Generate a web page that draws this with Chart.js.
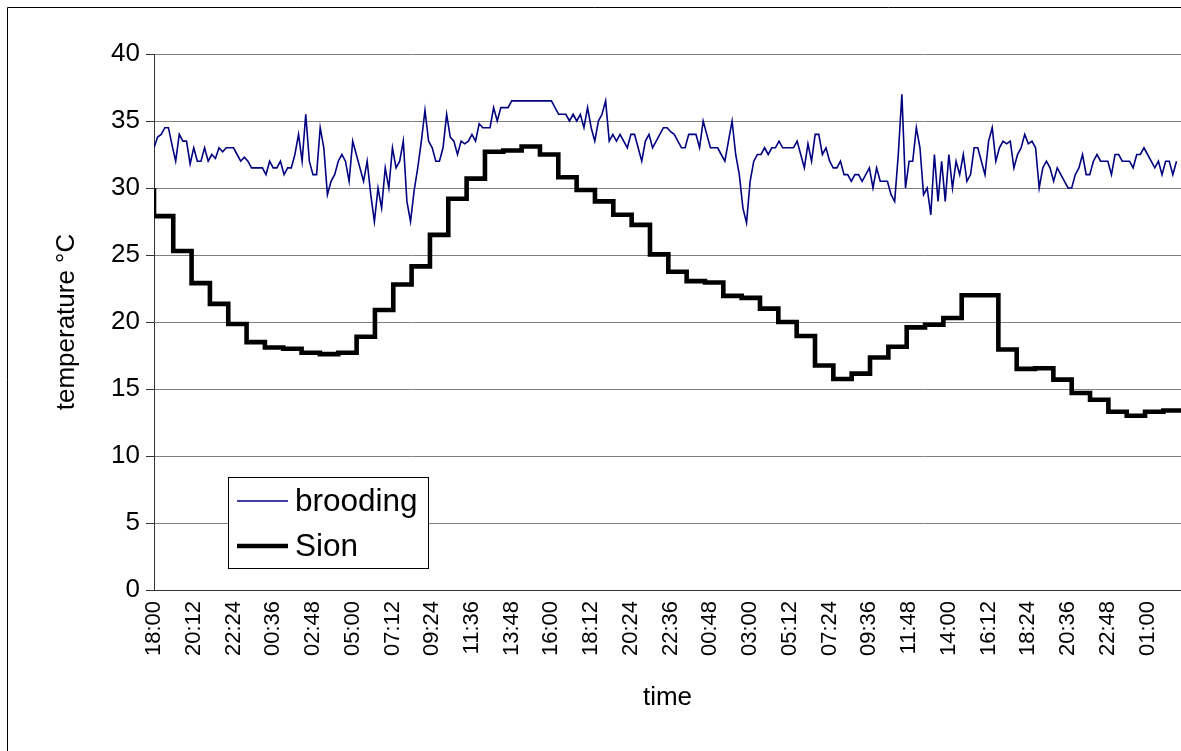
<!DOCTYPE html>
<html>
<head>
<meta charset="utf-8">
<title>brooding vs Sion</title>
<script src="https://cdn.jsdelivr.net/npm/chart.js@4.4.0/dist/chart.umd.min.js"></script>
<style>
    html, body { margin: 0; padding: 0; background: #fff; overflow: hidden; }
    #wrap { width: 1181px; height: 751px; overflow: hidden; }
    canvas { display: block; }
</style>
</head>
<body>
<div id="wrap"><canvas id="tempChart" width="1181" height="751"></canvas></div>
<script>
// --- data --- //
const tickLabels = ['18:00', '20:12', '22:24', '00:36', '02:48', '05:00', '07:12', '09:24', '11:36',
    '13:48', '16:00', '18:12', '20:24', '22:36', '00:48', '03:00', '05:12', '07:24', '09:36',
    '11:48', '14:00', '16:12', '18:24', '20:36', '22:48', '01:00'];
const tickStepMin = 132;     // one label every 2h12
const sampleStepMin = 12;    // brooding logger interval
const axisEndMin = 3411;

// nest temperature, one value every 12 min from 18:00
const brooding = [
    33, 33.8, 34, 34.5, 34.5, 33.2, 32, 34, 33.5, 33.5,
    31.8, 33, 32, 32, 33, 32, 32.5, 32.2, 33, 32.7,
    33, 33, 33, 32.5, 32, 32.3, 32, 31.5, 31.5, 31.5,
    31.5, 31, 32, 31.5, 31.5, 32, 31, 31.5, 31.5, 32.5,
    34, 32, 35.5, 32, 31, 31, 34.5, 33, 29.5, 30.5,
    31, 32, 32.5, 32, 30.5, 33.5, 32.5, 31.5, 30.5, 32,
    29.5, 27.5, 30, 28.5, 31.5, 30, 33, 31.5, 32, 33.5,
    29, 27.5, 29.8, 31.5, 33.5, 35.8, 33.5, 33, 32, 32,
    33, 35.5, 33.8, 33.5, 32.5, 33.5, 33.3, 33.5, 34, 33.5,
    34.8, 34.5, 34.5, 34.5, 36, 35, 36, 36, 36, 36.5,
    36.5, 36.5, 36.5, 36.5, 36.5, 36.5, 36.5, 36.5, 36.5, 36.5,
    36.5, 36, 35.5, 35.5, 35.5, 35, 35.5, 35, 35.5, 34.5,
    36, 34.5, 33.5, 35, 35.5, 36.5, 33.5, 34, 33.5, 34,
    33.5, 33, 34, 34, 33, 32, 33.5, 34, 33, 33.5,
    34, 34.5, 34.5, 34.2, 34, 33.5, 33, 33, 34, 34,
    34, 33, 35, 34, 33, 33, 33, 32.5, 32, 33.5,
    35, 32.5, 31, 28.5, 27.4, 30.5, 32, 32.5, 32.5, 33,
    32.5, 33, 33, 33.5, 33, 33, 33, 33, 33.5, 32.5,
    31.5, 33.3, 32, 34, 34, 32.5, 33, 32, 31.5, 31.5,
    32, 31, 31, 30.5, 31, 31, 30.5, 31, 31.5, 30,
    31.5, 30.5, 30.5, 30.5, 29.5, 29, 32.5, 37, 30, 32,
    32, 34.5, 33, 29.5, 30, 28, 32.5, 29, 32, 29,
    32.5, 30, 32, 31, 32.5, 30.5, 31, 33, 33, 32,
    31, 33.5, 34.5, 32, 33, 33.5, 33.3, 33.5, 31.5, 32.5,
    33, 34, 33.3, 33.5, 33, 30, 31.5, 32, 31.5, 30.5,
    31.5, 31, 30.5, 30, 30, 31, 31.5, 32.5, 31, 31,
    32, 32.5, 32, 32, 32, 31, 32.5, 32.5, 32, 32,
    32, 31.5, 32.5, 32.5, 33, 32.5, 32, 31.5, 32, 31,
    32, 32, 31, 32
];

// Sion station, hourly readings (first value is the 18:00 start)
const sionFirstMin = 3;
const sionStepMin = 60.9;
const sion = [
    30, 27.9, 25.3, 22.9, 21.35, 19.85, 18.5, 18.1, 18.0, 17.7,
    17.6, 17.7, 18.9, 20.9, 22.8, 24.15, 26.5, 29.2, 30.7, 32.7,
    32.8, 33.1, 32.5, 30.8, 29.85, 29.0, 28.0, 27.25, 25.05, 23.75,
    23.05, 22.95, 21.95, 21.8, 21.0, 20.0, 18.95, 16.75, 15.75, 16.15,
    17.35, 18.15, 19.6, 19.8, 20.3, 22.0, 22.0, 17.95, 16.5, 16.55,
    15.7, 14.7, 14.2, 13.3, 13.0, 13.3, 13.4
];

const broodingPoints = brooding.map((v, i) => ({ x: i * sampleStepMin, y: v }));
// a reading covers the hour that ends at its point (vertical step at the start)
const sionPoints = sion.map((v, i) => ({ x: i === 0 ? 0 : sionFirstMin + i * sionStepMin, y: v }));

const FONT = 'Arial, "Liberation Sans", sans-serif';

// --- frame + legend drawn on the canvas --- //
const framePlugin = {
    id: 'frame',
    beforeDraw(chart) {
        const ctx = chart.ctx;
        ctx.save();
        ctx.fillStyle = '#fff';
        ctx.fillRect(0, 0, chart.width, chart.height);
        ctx.strokeStyle = '#000';
        ctx.lineWidth = 1;
        ctx.beginPath();
        ctx.moveTo(7.5, chart.height);
        ctx.lineTo(7.5, 7.5);
        ctx.lineTo(chart.width + 10, 7.5);
        ctx.stroke();
        ctx.restore();
    }
};

const boxLegendPlugin = {
    id: 'boxLegend',
    afterDraw(chart) {
        const ctx = chart.ctx;
        const sets = chart.data.datasets;
        ctx.save();
        ctx.fillStyle = '#fff';
        ctx.fillRect(228.5, 477.5, 200, 91);
        ctx.strokeStyle = '#000';
        ctx.lineWidth = 1;
        ctx.strokeRect(228.5, 477.5, 200, 91);

        const rows = [501, 546];
        sets.forEach((ds, i) => {
            ctx.strokeStyle = ds.borderColor;
            ctx.lineWidth = ds.borderWidth;
            ctx.lineCap = 'butt';
            ctx.beginPath();
            ctx.moveTo(237, rows[i]);
            ctx.lineTo(288, rows[i]);
            ctx.stroke();

            ctx.fillStyle = '#000';
            ctx.font = '31.5px ' + FONT;
            ctx.textBaseline = 'middle';
            ctx.textAlign = 'left';
            ctx.fillText(ds.label, 295, rows[i] + 1);
        });
        ctx.restore();
    }
};

const ctx = document.getElementById('tempChart').getContext('2d');
new Chart(ctx, {
    type: 'line',
    data: {
        datasets: [{
            label: 'brooding',
            data: broodingPoints,
            borderColor: '#000080',
            borderWidth: 1.6,
            pointRadius: 0,
            tension: 0
        }, {
            label: 'Sion',
            data: sionPoints,
            borderColor: '#000000',
            borderWidth: 4.6,
            pointRadius: 0,
            stepped: 'after',
            borderJoinStyle: 'miter'
        }]
    },
    options: {
        responsive: false,
        devicePixelRatio: 1,
        animation: false,
        layout: { padding: { left: 0, top: 54, right: 0, bottom: 0 } },
        plugins: {
            legend: { display: false },
            tooltip: { enabled: false }
        },
        scales: {
            x: {
                type: 'linear',
                min: 0,
                max: axisEndMin,
                afterFit: (scale) => { scale.height = 161; },
                afterBuildTicks: (scale) => {
                    scale.ticks = scale.ticks.filter(t => t.value % tickStepMin === 0);
                },
                ticks: {
                    stepSize: tickStepMin,
                    autoSkip: false,
                    minRotation: 90,
                    maxRotation: 90,
                    padding: 3,
                    color: '#000',
                    font: { family: FONT, size: 22 },
                    callback: (value) => tickLabels[Math.round(value / tickStepMin)]
                },
                grid: { display: false },
                border: { display: true, color: '#333', width: 1 },
                title: {
                    display: true,
                    text: 'time',
                    color: '#000',
                    font: { family: FONT, size: 26 },
                    padding: { top: 0, bottom: 38 }
                }
            },
            y: {
                min: 0,
                max: 40,
                afterFit: (scale) => { scale.width = 154; },
                ticks: {
                    stepSize: 5,
                    padding: 6,
                    color: '#000',
                    font: { family: FONT, size: 26 }
                },
                grid: {
                    color: '#808080',
                    lineWidth: 1,
                    tickLength: 8,
                    tickColor: '#333'
                },
                border: { color: '#333', width: 1 },
                title: {
                    display: true,
                    text: 'temperature °C',
                    color: '#000',
                    font: { family: FONT, size: 26 },
                    padding: { top: 51, bottom: 0 }
                }
            }
        }
    },
    plugins: [framePlugin, boxLegendPlugin]
});
</script>
</body>
</html>
